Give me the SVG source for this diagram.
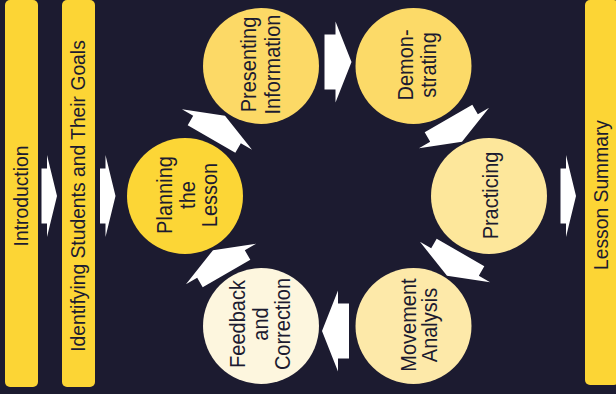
<svg xmlns="http://www.w3.org/2000/svg" xmlns:xlink="http://www.w3.org/1999/xlink" width="616" height="394" viewBox="0 0 616 394">
<style>
.bar{fill:#fcd535}
.t{font-family:"Liberation Sans",Arial,sans-serif;fill:#1c1b30;text-anchor:middle}
.bt{font-size:19.3px}
.ct{font-size:21.5px}
.arr{fill:#ffffff}
</style>
<defs>
<polygon id="arrL" points="-11,-27.5 0,-27.5 0,-40.5 16,0 0,40.5 0,27.5 -11,27.5"/>
<polygon id="arrS" points="-5.5,-27.5 0,-27.5 0,-41 10,0 0,41 0,27.5 -5.5,27.5"/>
</defs>
<rect width="616" height="394" fill="#1c1b30"/>

<g id="introduction">
<rect class="bar" x="5" y="0" width="33" height="387" rx="5"/>
<text class="t bt" transform="translate(28.3,196) rotate(-90)">Introduction</text>
</g>
<g id="identifying">
<rect class="bar" x="62" y="0" width="33" height="387" rx="5"/>
<text class="t bt" transform="translate(85,196) rotate(-90)">Identifying Students and Their Goals</text>
</g>
<g id="summary">
<rect class="bar" x="585" y="0" width="34" height="385" rx="5"/>
<text class="t bt" transform="translate(608,195) rotate(-90)">Lesson Summary</text>
</g>

<g id="planning">
<circle cx="185" cy="196" r="58" fill="#fcd636"/>
<text class="t ct" transform="translate(171.5,195) rotate(-90) scale(0.93,1)">Planning</text>
<text class="t ct" transform="translate(194.5,195) rotate(-90) scale(0.93,1)">the</text>
<text class="t ct" transform="translate(216.5,195) rotate(-90) scale(0.93,1)">Lesson</text>
</g>
<g id="presenting">
<circle cx="261" cy="66" r="58" fill="#fcd966"/>
<text class="t ct" transform="translate(256,64.5) rotate(-90) scale(0.93,1)">Presenting</text>
<text class="t ct" transform="translate(280,64.5) rotate(-90) scale(0.93,1)">Information</text>
</g>
<g id="demonstrating">
<circle cx="413.5" cy="66" r="58" fill="#fcda68"/>
<text class="t ct" transform="translate(412.7,65) rotate(-90) scale(0.93,1)">Demon-</text>
<text class="t ct" transform="translate(436,65) rotate(-90) scale(0.93,1)">strating</text>
</g>
<g id="practicing">
<circle cx="489" cy="196" r="58" fill="#fde79b"/>
<text class="t ct" transform="translate(498,195.5) rotate(-90) scale(0.93,1)">Practicing</text>
</g>
<g id="movement">
<circle cx="413.5" cy="326" r="58" fill="#fde9a9"/>
<text class="t ct" transform="translate(416,325) rotate(-90) scale(0.93,1)">Movement</text>
<text class="t ct" transform="translate(437,325) rotate(-90) scale(0.93,1)">Analysis</text>
</g>
<g id="feedback">
<circle cx="261" cy="326" r="58" fill="#fdf6de"/>
<text class="t ct" transform="translate(245,324) rotate(-90) scale(0.93,1)">Feedback</text>
<text class="t ct" transform="translate(268,324) rotate(-90) scale(0.93,1)">and</text>
<text class="t ct" transform="translate(290,324) rotate(-90) scale(0.93,1)">Correction</text>
</g>

<g id="connectors" class="arr">
<use xlink:href="#arrS" transform="translate(47,196)"/>
<use xlink:href="#arrS" transform="translate(105.5,196)"/>
<use xlink:href="#arrS" transform="translate(566,196)"/>
<use xlink:href="#arrL" transform="translate(217,129.5) rotate(-60)"/>
<use xlink:href="#arrL" transform="translate(335.5,62)"/>
<use xlink:href="#arrL" transform="translate(454,128) rotate(60)"/>
<use xlink:href="#arrL" transform="translate(455,262) rotate(120)"/>
<use xlink:href="#arrL" transform="translate(338,331) rotate(180)"/>
<use xlink:href="#arrL" transform="translate(221,264) rotate(-120)"/>
</g>
</svg>
